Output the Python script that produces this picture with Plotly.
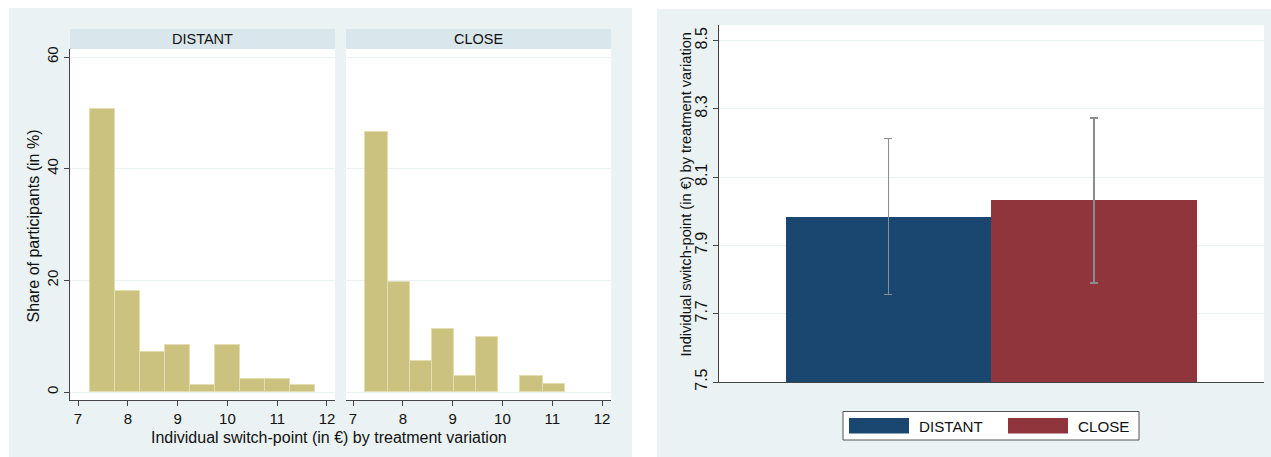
import plotly.graph_objects as go

W, H = 1271, 457


def px(x):
    return x / W


def py(y):
    return 1 - y / H


# ---------------- data ----------------
groups = ["DISTANT", "CLOSE"]

distant_edges = [7.25, 7.75, 8.25, 8.75, 9.25, 9.75, 10.25, 10.75, 11.25, 11.75]
distant_share = [50.60, 18.07, 7.23, 8.43, 1.20, 8.43, 2.41, 2.41, 1.20]

close_edges = [7.25, 7.694, 8.139, 8.583, 9.028, 9.472, 9.917, 10.361, 10.806, 11.25]
close_share = [46.48, 19.72, 5.63, 11.27, 2.82, 9.86, 0.0, 2.82, 1.41]

hist_xticks = [7, 8, 9, 10, 11, 12]
hist_yticks = [0, 20, 40, 60]

mean_switch = [7.984, 8.032]
ci_low = [7.756, 7.790]
ci_high = [8.214, 8.273]

bar_yticks = [7.5, 7.7, 7.9, 8.1, 8.3, 8.5]
bar_yticktext = ["7.5", "7.7", "7.9", "8.1", "8.3", "8.5"]

# ---------------- styles ----------------
FONT = "Liberation Sans, Arial, sans-serif"
TXT = "#111111"
BG = "#eaf2f3"
STRIP = "#d9e6eb"
GRID = "#eaf2f3"
AXIS = "#444444"
KHAKI = "#cac27e"
KHAKI_EDGE = "#e3ddb0"
NAVY = "#1a476f"
MAROON = "#90353b"


def centers(edges):
    return [(edges[i] + edges[i + 1]) / 2 for i in range(len(edges) - 1)]


def widths(edges):
    return [edges[i + 1] - edges[i] for i in range(len(edges) - 1)]


def edge_widths(values):
    return [0 if v == 0 else 1 for v in values]


fig = go.Figure()

fig.add_trace(go.Bar(
    x=centers(distant_edges), y=distant_share, width=widths(distant_edges),
    marker=dict(color=KHAKI, line=dict(color=KHAKI_EDGE, width=edge_widths(distant_share))),
    xaxis="x", yaxis="y", showlegend=False, name="DISTANT"))

fig.add_trace(go.Bar(
    x=centers(close_edges), y=close_share, width=widths(close_edges),
    marker=dict(color=KHAKI, line=dict(color=KHAKI_EDGE, width=edge_widths(close_share))),
    xaxis="x2", yaxis="y2", showlegend=False, name="CLOSE"))

fig.add_trace(go.Bar(
    x=[0, 1], y=mean_switch, width=1,
    marker=dict(color=[NAVY, MAROON], line=dict(width=0)),
    error_y=dict(type="data", symmetric=False,
                 array=[h - m for h, m in zip(ci_high, mean_switch)],
                 arrayminus=[m - l for m, l in zip(mean_switch, ci_low)],
                 color="#8c8c8c", thickness=1.6, width=4),
    xaxis="x3", yaxis="y3", showlegend=False, hoverinfo="y"))

xtickfont = dict(family=FONT, size=15, color=TXT)

fig.update_layout(
    template="none",
    width=W, height=H,
    margin=dict(l=0, r=0, t=0, b=0, pad=0),
    paper_bgcolor="white", plot_bgcolor="white",
    bargap=0,
    font=dict(family=FONT, color=TXT),
    showlegend=False,
    xaxis=dict(domain=[px(70), px(335)], range=[6.839, 12.161], anchor="y",
               tickvals=hist_xticks, ticks="outside", ticklen=5, tickcolor=AXIS,
               showline=True, linecolor=AXIS, linewidth=1, showgrid=False,
               zeroline=False, tickfont=xtickfont, automargin=False),
    yaxis=dict(domain=[py(400), py(49)], range=[-1.433, 61.433], anchor="x",
               tickvals=hist_yticks, tickangle=-90, ticks="outside", ticklen=5,
               tickcolor=AXIS, showline=True, linecolor=AXIS, linewidth=1,
               showgrid=True, gridcolor=GRID, gridwidth=1, zeroline=False,
               tickfont=dict(family=FONT, size=15, color=TXT), automargin=False),
    xaxis2=dict(domain=[px(346), px(611)], range=[6.859, 12.18], anchor="y2",
                tickvals=hist_xticks, ticks="outside", ticklen=5, tickcolor=AXIS,
                showline=True, linecolor=AXIS, linewidth=1, showgrid=False,
                zeroline=False, tickfont=xtickfont, automargin=False),
    yaxis2=dict(domain=[py(400), py(49)], range=[-1.433, 61.433], anchor="x2",
                tickvals=hist_yticks, showticklabels=False, ticks="",
                showline=False, showgrid=True, gridcolor=GRID, gridwidth=1,
                zeroline=False, automargin=False),
    xaxis3=dict(domain=[px(719), px(1264)], range=[-0.825, 1.828], anchor="y3",
                showticklabels=False, ticks="", showline=True, linecolor=AXIS,
                linewidth=1, showgrid=False, zeroline=False, automargin=False),
    yaxis3=dict(domain=[py(382), py(25)], range=[7.5, 8.546], anchor="x3",
                tickvals=bar_yticks, ticktext=bar_yticktext, tickangle=-90,
                ticks="outside", ticklen=5, tickcolor=AXIS, showline=True,
                linecolor=AXIS, linewidth=1, showgrid=True, gridcolor=GRID,
                gridwidth=1, zeroline=False, automargin=False,
                tickfont=dict(family=FONT, size=16, color=TXT)),
)

shapes = [
    # panel backgrounds
    dict(type="rect", xref="paper", yref="paper", x0=px(9), x1=px(632), y0=0, y1=py(8),
         fillcolor=BG, line=dict(width=0), layer="below"),
    dict(type="rect", xref="paper", yref="paper", x0=px(657), x1=1, y0=0, y1=py(9),
         fillcolor=BG, line=dict(width=0), layer="below"),
    # white plot regions
    dict(type="rect", xref="x domain", yref="y domain", x0=0, x1=1, y0=0, y1=1,
         fillcolor="white", line=dict(width=0), layer="below"),
    dict(type="rect", xref="x2 domain", yref="y2 domain", x0=0, x1=1, y0=0, y1=1,
         fillcolor="white", line=dict(width=0), layer="below"),
    dict(type="rect", xref="x3 domain", yref="y3 domain", x0=0, x1=1, y0=0, y1=1,
         fillcolor="white", line=dict(width=0), layer="below"),
    # facet strips
    dict(type="rect", xref="paper", yref="paper", x0=px(70), x1=px(335), y0=py(49), y1=py(29),
         fillcolor=STRIP, line=dict(width=0), layer="below"),
    dict(type="rect", xref="paper", yref="paper", x0=px(346), x1=px(611), y0=py(49), y1=py(29),
         fillcolor=STRIP, line=dict(width=0), layer="below"),
    # legend box and keys
    dict(type="rect", xref="paper", yref="paper", x0=px(843), x1=px(1139), y0=py(440), y1=py(411.5),
         fillcolor="white", line=dict(color="#555555", width=1)),
    dict(type="rect", xref="paper", yref="paper", x0=px(849), x1=px(909), y0=py(433.5), y1=py(418),
         fillcolor=NAVY, line=dict(width=0)),
    dict(type="rect", xref="paper", yref="paper", x0=px(1008), x1=px(1068), y0=py(433.5), y1=py(418),
         fillcolor=MAROON, line=dict(width=0)),
]


def ann(text, x, y, size, angle=0, xanchor="center"):
    return dict(text=text, x=px(x), y=py(y), xref="paper", yref="paper",
                xanchor=xanchor, yanchor="middle", textangle=angle,
                showarrow=False, font=dict(family=FONT, size=size, color=TXT))


annotations = [
    ann(groups[0], 202.5, 39, 14.5),
    ann(groups[1], 478.5, 39, 14.5),
    ann("Individual switch-point (in €) by treatment variation", 328.7, 437.5, 16),
    ann("Share of participants (in %)", 33, 226.5, 16, angle=-90),
    ann("Individual switch-point (in €) by treatment variation", 685, 194.5, 14.6, angle=-90),
    ann(groups[0], 917, 426, 15.2, xanchor="left"),
    ann(groups[1], 1076, 426, 15.2, xanchor="left"),
]

fig.update_layout(shapes=shapes, annotations=annotations)

fig.write_html("out.html")
